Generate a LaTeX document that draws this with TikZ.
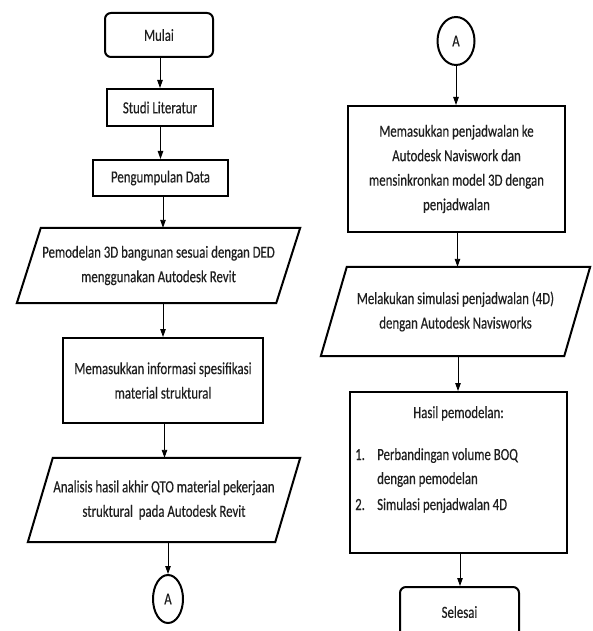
\documentclass[tikz,border=0pt]{standalone}
\usepackage{fontspec}
\setmainfont{Carlito}[FakeStretch=0.755,FakeBold=0.4]
\usetikzlibrary{arrows.meta,calc,shapes.geometric}
\begin{document}
\begin{tikzpicture}[x=1pt,y=-1pt,
  every node/.style={font=\fontsize{17}{24.5}\selectfont, inner sep=0pt, align=center, text=black!88},
  proc/.style={draw, line width=2pt, rectangle},
  term/.style={draw, line width=2pt, rectangle, rounded corners=6pt},
  io/.style={rectangle},
  conn/.style={draw, line width=2pt, ellipse},
  flow/.style={line width=0.9pt, -{Triangle[length=8pt,width=5.5pt]}},
  pgram/.style={line width=2pt, line join=miter},
  item/.style={anchor=base west}]
\useasboundingbox (0,0) rectangle (592,631);
% left column
\node[term, minimum width=108pt, minimum height=44pt] (mulai) at (159,35) {Mulai};
\node[proc, minimum width=106pt, minimum height=37pt] (studi) at (160,107.5) {Studi Literatur};
\node[proc, minimum width=135pt, minimum height=36pt] (data) at (160.5,178) {Pengumpulan Data};
\node[io, minimum width=259pt, minimum height=75pt] (model) at (158.5,265.5) {Pemodelan 3D bangunan sesuai dengan DED\\menggunakan Autodesk Revit};
\node[proc, minimum width=200pt, minimum height=85pt] (info) at (163,380.5) {Memasukkan informasi spesifikasi\\material struktural};
\node[io, minimum width=247pt, minimum height=84pt] (qto) at (164,500) {Analisis hasil akhir QTO material pekerjaan\\struktural\ \ pada Autodesk Revit};
\node[conn, minimum width=30pt, minimum height=48pt] (a1) at (168,599) {A};
% right column
\node[conn, minimum width=37pt, minimum height=48pt] (a2) at (456,41) {A};
\node[proc, minimum width=217pt, minimum height=126pt] (navis) at (456.5,169) {Memasukkan penjadwalan ke\\Autodesk Naviswork dan\\mensinkronkan model 3D dengan\\penjadwalan};
\node[io, minimum width=243pt, minimum height=89pt] (sim) at (455.5,311.5) {Melakukan simulasi penjadwalan (4D)\\dengan Autodesk Navisworks};
\node[proc, minimum width=217pt, minimum height=161pt] (hasil) at (458.5,472.5) {};
\node[anchor=base] (hasilT) at (458.5,418) {Hasil pemodelan:};
\node[item] (n1) at (355,460) {1.};
\node[item] (t1) at (377,460) {Perbandingan volume BOQ};
\node[item] (t1b) at (377,484) {dengan pemodelan};
\node[item] (n2) at (355,510) {2.};
\node[item] (t2) at (377,510) {Simulasi penjadwalan 4D};
\node[term, minimum width=119pt, minimum height=50pt] (selesai) at (459.5,612) {Selesai};
% parallelograms
\draw[pgram] ($(model.north west)+(12,0)$) -- ($(model.north east)+(12,0)$) -- ($(model.south east)-(12,0)$) -- ($(model.south west)-(12,0)$) -- cycle;
\draw[pgram] ($(qto.north west)+(12.5,0)$) -- ($(qto.north east)+(12.5,0)$) -- ($(qto.south east)-(12.5,0)$) -- ($(qto.south west)-(12.5,0)$) -- cycle;
\draw[pgram] ($(sim.north west)+(13,0)$) -- ($(sim.north east)+(13,0)$) -- ($(sim.south east)-(13,0)$) -- ($(sim.south west)-(13,0)$) -- cycle;
% connectors
\draw[flow] (studi.north |- mulai.south) -- (studi.north);
\draw[flow] (data.north |- studi.south) -- (data.north);
\draw[flow] ([xshift=2.5pt]data.south) -- ([xshift=2.5pt]data.south |- model.north);
\draw[flow] (info.north |- model.south) -- (info.north);
\draw[flow] ([xshift=1.5pt]info.south) -- ([xshift=1.5pt]info.south |- qto.north);
\draw[flow] (a1.north |- qto.south) -- (a1.north);
\draw[flow] (a2.south) -- (a2.south |- navis.north);
\draw[flow] ([xshift=1pt]navis.south) -- ([xshift=1pt]navis.south |- sim.north);
\draw[flow] ([xshift=2.5pt]sim.south) -- ([xshift=2.5pt]sim.south |- hasil.north);
\draw[flow] ([xshift=1.5pt]hasil.south) -- ([xshift=1.5pt]hasil.south |- selesai.north);
\end{tikzpicture}
\end{document}
